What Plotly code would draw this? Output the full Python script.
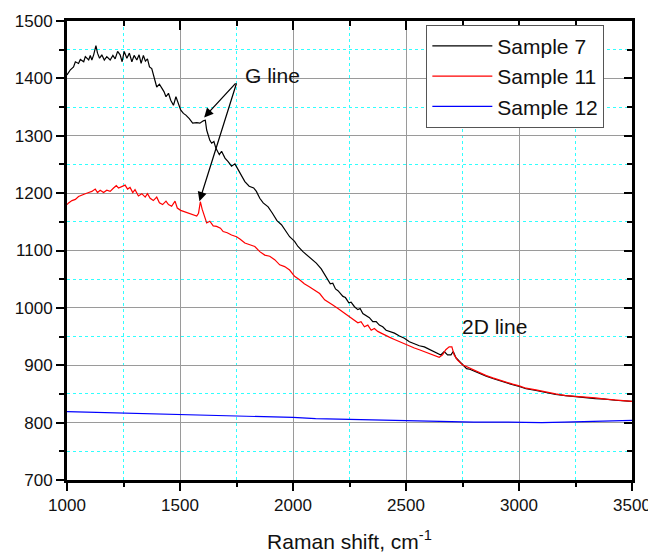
import plotly.graph_objects as go

# Sample 7 (black)
s7_x = [1000, 1015, 1029, 1037, 1051, 1059, 1074, 1081, 1096, 1103, 1110, 1118, 1128, 1135, 1144,
        1154, 1165, 1176, 1191, 1203, 1213, 1224, 1235, 1244, 1253, 1265, 1276, 1287, 1297, 1309,
        1319, 1328, 1338, 1347, 1356, 1365, 1375, 1385, 1397, 1409, 1419, 1429, 1438, 1449, 1459,
        1471, 1482, 1493, 1503, 1515, 1526, 1541, 1556, 1574, 1588, 1603, 1612, 1618, 1625, 1632,
        1640, 1650, 1659, 1674, 1684, 1699, 1713, 1728, 1743, 1757, 1772, 1787, 1806, 1826, 1838,
        1853, 1868, 1890, 1909, 1929, 1949, 1971, 1985, 2007, 2022, 2044, 2066, 2085, 2103, 2125,
        2140, 2154, 2165, 2176, 2188, 2199, 2209, 2221, 2232, 2247, 2257, 2272, 2287, 2297, 2309,
        2324, 2338, 2353, 2368, 2382, 2397, 2412, 2429, 2449, 2471, 2493, 2515, 2537, 2559, 2581,
        2603, 2625, 2640, 2654, 2669, 2684, 2699, 2709, 2721, 2735, 2753, 2768, 2782, 2804, 2826,
        2855, 2884, 2914, 2943, 2972, 3001, 3031, 3075, 3118, 3162, 3206, 3250, 3294, 3338, 3382,
        3425, 3500]
s7_y = [1406, 1415, 1420, 1429, 1426, 1433, 1429, 1438, 1432, 1440, 1432, 1441, 1457, 1444, 1435,
        1441, 1432, 1438, 1432, 1440, 1434, 1447, 1441, 1429, 1447, 1435, 1444, 1429, 1440, 1432,
        1441, 1426, 1440, 1430, 1434, 1420, 1417, 1403, 1385, 1390, 1383, 1377, 1368, 1374, 1362,
        1353, 1368, 1356, 1345, 1339, 1336, 1330, 1322, 1323, 1322, 1326, 1327, 1310, 1302, 1292,
        1287, 1290, 1278, 1267, 1273, 1261, 1255, 1247, 1251, 1241, 1229, 1220, 1212, 1209, 1203,
        1191, 1183, 1176, 1165, 1152, 1145, 1133, 1124, 1116, 1107, 1098, 1091, 1084, 1078, 1068,
        1058, 1051, 1042, 1043, 1033, 1030, 1026, 1020, 1018, 1009, 1010, 1002, 997, 999, 990,
        986, 983, 976, 976, 970, 967, 961, 959, 956, 951, 947, 941, 937, 934, 932,
        928, 924, 921, 918, 924, 918, 918, 924, 913, 907, 900, 894, 893, 889, 886,
        881, 877, 873, 870, 866, 863, 859, 856, 852, 849, 847, 845, 844, 842, 841,
        839, 837]

# Sample 11 (red)
s11_x = [1000, 1007, 1022, 1037, 1051, 1066, 1081, 1096, 1110, 1125, 1135, 1147, 1162, 1176, 1191,
         1206, 1218, 1228, 1243, 1257, 1268, 1279, 1291, 1301, 1316, 1331, 1346, 1356, 1368, 1382,
         1397, 1409, 1423, 1438, 1449, 1463, 1478, 1488, 1503, 1518, 1537, 1556, 1574, 1582, 1590,
         1598, 1606, 1618, 1632, 1647, 1662, 1679, 1691, 1709, 1728, 1750, 1765, 1787, 1809, 1831,
         1853, 1875, 1897, 1919, 1941, 1963, 1985, 2007, 2029, 2050, 2072, 2095, 2118, 2140, 2154,
         2176, 2199, 2221, 2243, 2257, 2272, 2287, 2301, 2316, 2331, 2346, 2360, 2375, 2390, 2404,
         2426, 2449, 2471, 2493, 2515, 2537, 2559, 2581, 2603, 2625, 2647, 2662, 2676, 2691, 2703,
         2713, 2728, 2750, 2772, 2804, 2826, 2855, 2884, 2914, 2943, 2972, 3001, 3031, 3075, 3118,
         3162, 3206, 3250, 3294, 3338, 3382, 3425, 3500]
s11_y = [1180, 1183, 1187, 1189, 1194, 1197, 1199, 1201, 1203, 1207, 1201, 1205, 1201, 1205, 1203,
         1209, 1213, 1209, 1211, 1214, 1207, 1210, 1201, 1206, 1195, 1199, 1193, 1199, 1191, 1187,
         1193, 1183, 1180, 1186, 1180, 1177, 1186, 1174, 1170, 1168, 1166, 1163, 1160, 1165, 1185,
         1172, 1162, 1148, 1151, 1143, 1142, 1139, 1133, 1131, 1127, 1124, 1120, 1113, 1110, 1107,
         1098, 1092, 1090, 1084, 1075, 1072, 1066, 1055, 1049, 1042, 1037, 1031, 1025, 1014, 1010,
         1005, 999, 993, 986, 982, 979, 974, 976, 967, 970, 961, 964, 959, 956, 953,
         949, 945, 941, 938, 934, 930, 927, 924, 920, 917, 914, 918, 927, 932, 932,
         918, 909, 901, 897, 890, 887, 882, 878, 874, 870, 867, 864, 860, 857, 853,
         850, 847, 846, 844, 843, 841, 840, 837]

# Sample 12 (blue)
s12_x = [1000, 1100, 1200, 1300, 1400, 1500, 1600, 1700, 1800, 1900, 2000, 2100, 2200,
         2300, 2400, 2500, 2600, 2700, 2800, 2900, 3000, 3100, 3200, 3300, 3400, 3500]
s12_y = [819, 818, 818, 817, 815, 814, 813, 812, 811, 810, 809, 807, 806,
         805, 804, 803, 802, 802, 801, 801, 800, 800, 801, 802, 803, 804]

FONT = "Liberation Sans, Arial, sans-serif"

fig = go.Figure()
fig.add_trace(go.Scatter(x=s7_x, y=s7_y, mode="lines", name="Sample 7",
                         line=dict(color="black", width=1.2)))
fig.add_trace(go.Scatter(x=s11_x, y=s11_y, mode="lines", name="Sample 11",
                         line=dict(color="red", width=1.2)))
fig.add_trace(go.Scatter(x=s12_x, y=s12_y, mode="lines", name="Sample 12",
                         line=dict(color="blue", width=1.2)))
# helper trace so the mirrored (inward-tick) axes are drawn
fig.add_trace(go.Scatter(x=[None], y=[None], xaxis="x2", yaxis="y2",
                         showlegend=False, hoverinfo="skip"))

XR = [1000, 3500]
YR = [700, 1500]

fig.update_layout(
    width=648, height=545,
    margin=dict(l=59, r=24, t=13, b=73),
    paper_bgcolor="white", plot_bgcolor="white",
    font=dict(family=FONT, color="#111"),
    showlegend=True,
    legend=dict(x=0.636, y=0.992, xanchor="left", yanchor="top",
                bordercolor="#555", borderwidth=1, bgcolor="white",
                font=dict(size=21, family=FONT, color="#111"),
                itemwidth=60, tracegroupgap=0),
    xaxis=dict(range=XR, tick0=1000, dtick=500, ticks="outside", ticklen=8, tickwidth=2,
               tickcolor="black", showline=True, linewidth=3, linecolor="black", mirror=True,
               showgrid=True, gridcolor="#9a9a9a", gridwidth=1, zeroline=False,
               tickfont=dict(size=17, family=FONT, color="#111"),
               title=dict(text="Raman shift, cm<sup>-1</sup>", standoff=20,
                          font=dict(size=21, family=FONT, color="#111")),
               minor=dict(dtick=250, ticks="outside", ticklen=4, tickwidth=2, tickcolor="black",
                          showgrid=True, gridcolor="#30ffff", griddash="dot", gridwidth=1),
               automargin=False),
    yaxis=dict(range=YR, tick0=700, dtick=100, ticks="outside", ticklen=8, tickwidth=2,
               tickcolor="black", showline=True, linewidth=3, linecolor="black", mirror=True,
               showgrid=True, gridcolor="#9a9a9a", gridwidth=1, zeroline=False,
               tickfont=dict(size=17, family=FONT, color="#111"),
               minor=dict(dtick=50, ticks="outside", ticklen=5, tickwidth=2, tickcolor="black",
                          showgrid=True, gridcolor="#30ffff", griddash="dot", gridwidth=1),
               automargin=False),
    xaxis2=dict(range=XR, overlaying="x", side="top", anchor="y", tick0=1000, dtick=500,
                ticks="inside", ticklen=9, tickwidth=2, tickcolor="black",
                showticklabels=False, showgrid=False, showline=False, zeroline=False,
                minor=dict(dtick=250, ticks="inside", ticklen=5, tickwidth=2, tickcolor="black",
                           showgrid=False)),
    yaxis2=dict(range=YR, overlaying="y", side="right", anchor="x", tick0=700, dtick=100,
                ticks="inside", ticklen=8, tickwidth=2, tickcolor="black",
                showticklabels=False, showgrid=False, showline=False, zeroline=False,
                minor=dict(dtick=50, ticks="inside", ticklen=5, tickwidth=2, tickcolor="black",
                           showgrid=False)),
)

# Annotations
fig.add_annotation(x=1780, y=1405, text="G line", showarrow=False, xanchor="left",
                   yanchor="middle", font=dict(size=21, family=FONT, color="#111"))
fig.add_annotation(x=2740, y=967, text="2D line", showarrow=False, xanchor="left",
                   yanchor="middle", font=dict(size=21, family=FONT, color="#111"))
for hx, hy in [(1607, 1332), (1586, 1186)]:
    fig.add_annotation(x=hx, y=hy, ax=1752, ay=1394, axref="x", ayref="y", xref="x", yref="y",
                       text="", showarrow=True, arrowhead=2, arrowsize=1.4, arrowwidth=1.3,
                       arrowcolor="black", standoff=0, startstandoff=0)

fig.write_html("out.html")
